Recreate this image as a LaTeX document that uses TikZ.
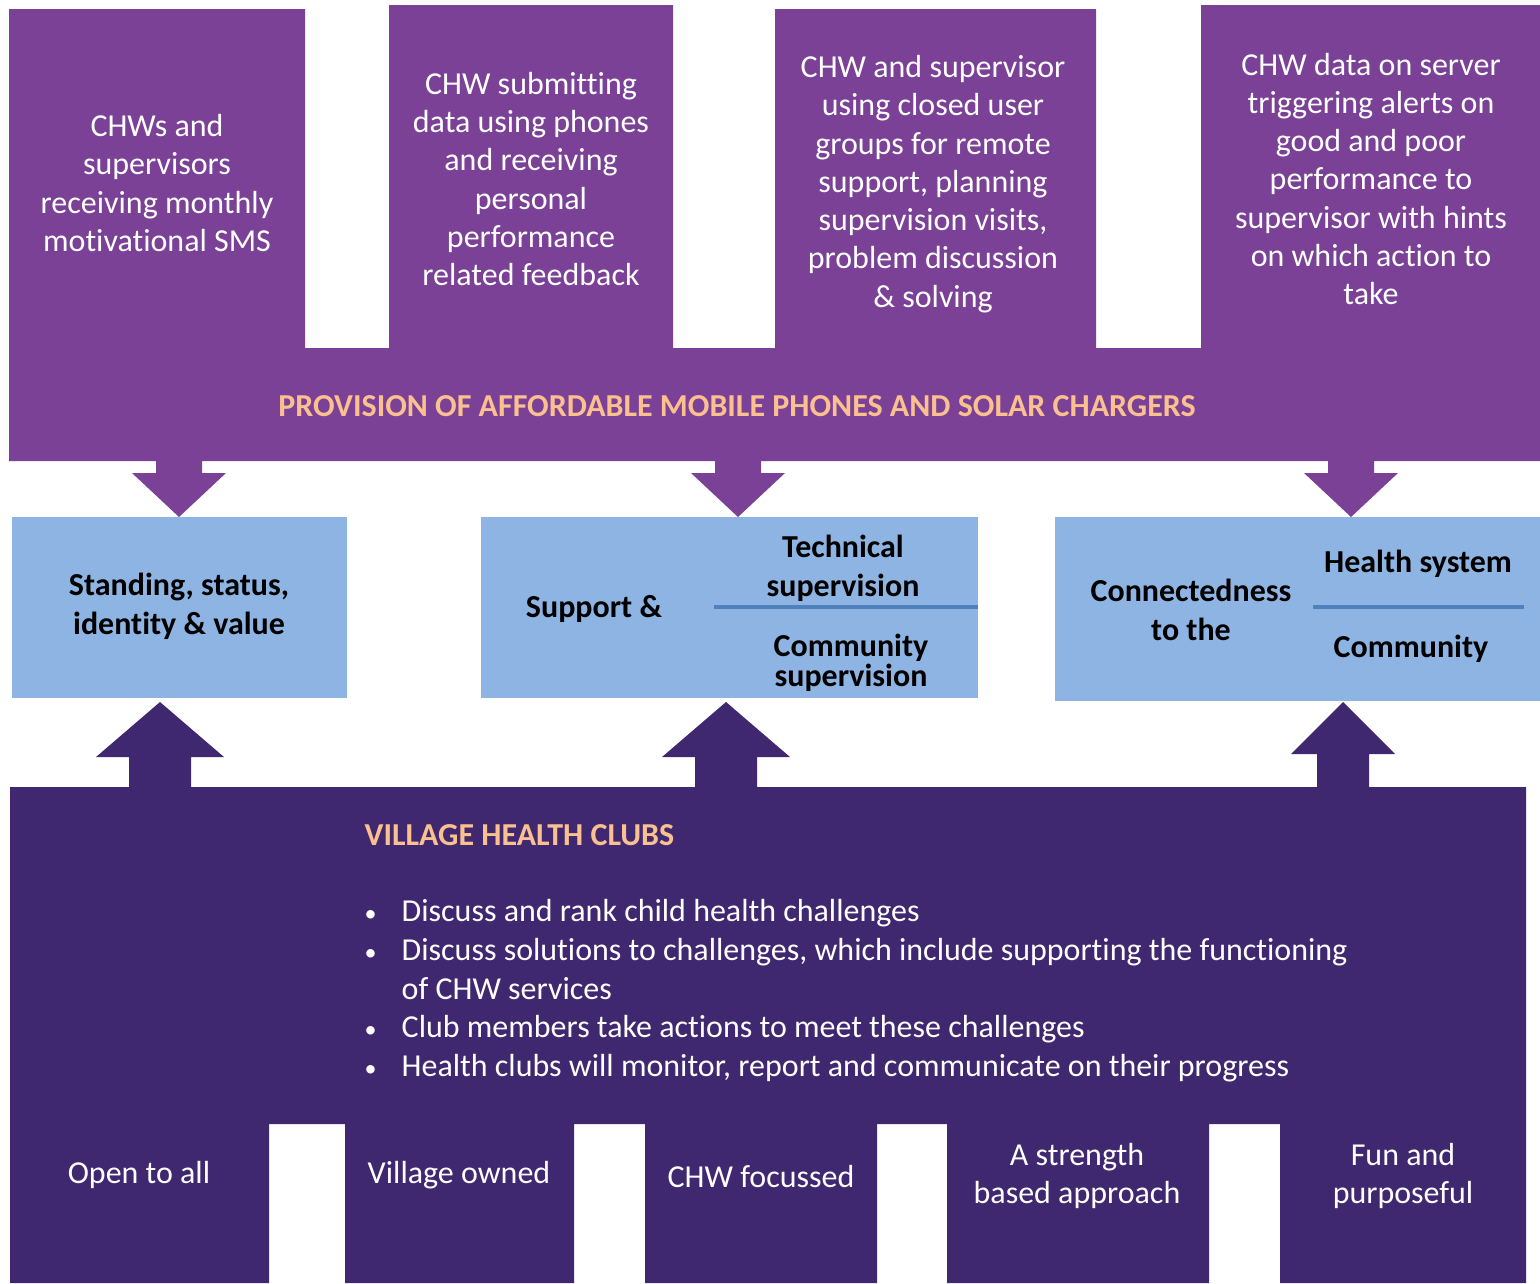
\documentclass[tikz,border=0pt]{standalone}
\usepackage{fontspec}
\setmainfont{Carlito}[Ligatures=NoCommon]
\usepackage{xcolor}
\usetikzlibrary{positioning}
\definecolor{phoneviolet}{HTML}{7A4196}
\definecolor{clubviolet}{HTML}{402870}
\definecolor{effectblue}{HTML}{8EB4E3}
\definecolor{rule}{HTML}{4F81BD}
\definecolor{title}{HTML}{FAC090}
\newcommand{\clubitem}{\makebox[3.7mm][l]{\makebox[1.2mm]{\scalebox{0.75}{\textbullet}}}}

\begin{document}
\begin{tikzpicture}[x=0.1mm, y=-0.1mm,
    wtxt/.style={text=white, align=center, inner sep=0pt, font=\fontsize{9.1}{10.9}\selectfont},
    btxt/.style={text=black, align=center, inner sep=0pt, font=\bfseries\fontsize{9.1}{11}\selectfont},
    head/.style={text=title, inner sep=0pt, font=\bfseries\fontsize{9.1}{11}\selectfont}]
          \useasboundingbox (0,0) rectangle (1540,1283);

          % phones and chargers
          \fill[phoneviolet] (9,461) -- (9,9) -- (305,9) -- (305,348) -- (389,348) -- (389,5) -- (673,5)
               -- (673,348) -- (775,348) -- (775,9) -- (1096,9) -- (1096,348) -- (1201,348) -- (1201,5)
               -- (1540,5) -- (1540,461) -- cycle;
          \node[wtxt](sms)    at (157,183) {CHWs and\\supervisors\\receiving monthly\\motivational SMS};
          \node[wtxt](submit) at (531,179) {CHW submitting\\data using phones\\and receiving\\personal\\performance\\related feedback};
          \node[wtxt](cug)    at (933,184) {CHW and supervisor\\using closed user\\groups for remote\\support, planning\\supervision visits,\\problem discussion\\\& solving};
          \node[wtxt](alerts) at (1371,179) {CHW data on server\\triggering alerts on\\good and poor\\performance to\\supervisor with hints\\on which action to\\take};
          \node[head](prov)   at (737,406) {PROVISION OF AFFORDABLE MOBILE PHONES AND SOLAR CHARGERS};

          \foreach \x in {179,738,1351}
            \fill[phoneviolet] (\x-23,455) -- (\x+23,455) -- (\x+23,473) -- (\x+47,473) -- (\x,517)
                 -- (\x-47,473) -- (\x-23,473) -- cycle;

          % effects
          \fill[effectblue] (12,517) rectangle (347,698);
          \fill[effectblue] (481,517) rectangle (978,698);
          \fill[effectblue] (1055,517) rectangle (1540,701);
          \node[btxt](stand)  at (179,606) {Standing, status,\\identity \& value};
          \node[btxt](supp)   at (594,609) {Support \&};
          \node[btxt](tech)   at (843,568) {Technical\\supervision};
          \node[btxt, font=\bfseries\fontsize{9.1}{8.6}\selectfont](comsup) at (851,663) {Community\\supervision};
          \node[btxt](conn)   at (1191,610) {Connectedness\\to the};
          \node[btxt](hsys)   at (1418,564) {Health system};
          \node[btxt](comm)   at (1411,649) {Community};
          \draw[rule, line width=1.1pt] (714,607) -- (978,607);
          \draw[rule, line width=1.1pt] (1313,607) -- (1524,607);

          % village health clubs
          \foreach \x/\h/\s/\b in {160/64/31/757, 726/64/31/757, 1343/52/26/754}
            \fill[clubviolet] (\x-\s,792) -- (\x-\s,\b) -- (\x-\h,\b) -- (\x,702) -- (\x+\h,\b)
                 -- (\x+\s,\b) -- (\x+\s,792) -- cycle;
          \fill[clubviolet] (10,1283) -- (10,787) -- (1526,787) -- (1526,1283) -- (1280,1283) -- (1280,1124)
               -- (1209,1124) -- (1209,1283) -- (947,1283) -- (947,1124) -- (877,1124) -- (877,1283)
               -- (645,1283) -- (645,1124) -- (574,1124) -- (574,1283) -- (345,1283) -- (345,1124)
               -- (269,1124) -- (269,1283) -- cycle;
          \node[head, anchor=west](vhc) at (364,835) {VILLAGE HEALTH CLUBS};
          \node[wtxt, align=left, anchor=north west, font=\fontsize{9.1}{11}\selectfont](list) at (364,899)
            {\clubitem Discuss and rank child health challenges\\
             \clubitem Discuss solutions to challenges, which include supporting the functioning\\
             \hspace*{3.7mm}of CHW services\\
             \clubitem Club members take actions to meet these challenges\\
             \clubitem Health clubs will monitor, report and communicate on their progress};
          \node[wtxt](open)   at (139,1175)  {Open to all};
          \node[wtxt](owned)  at (459,1175)  {Village owned};
          \node[wtxt](focus)  at (761,1176)  {CHW focussed};
          \node[wtxt](strong) at (1077,1176) {A strength\\based approach};
          \node[wtxt](fun)    at (1403,1176) {Fun and\\purposeful};
        \end{tikzpicture}
\end{document}
